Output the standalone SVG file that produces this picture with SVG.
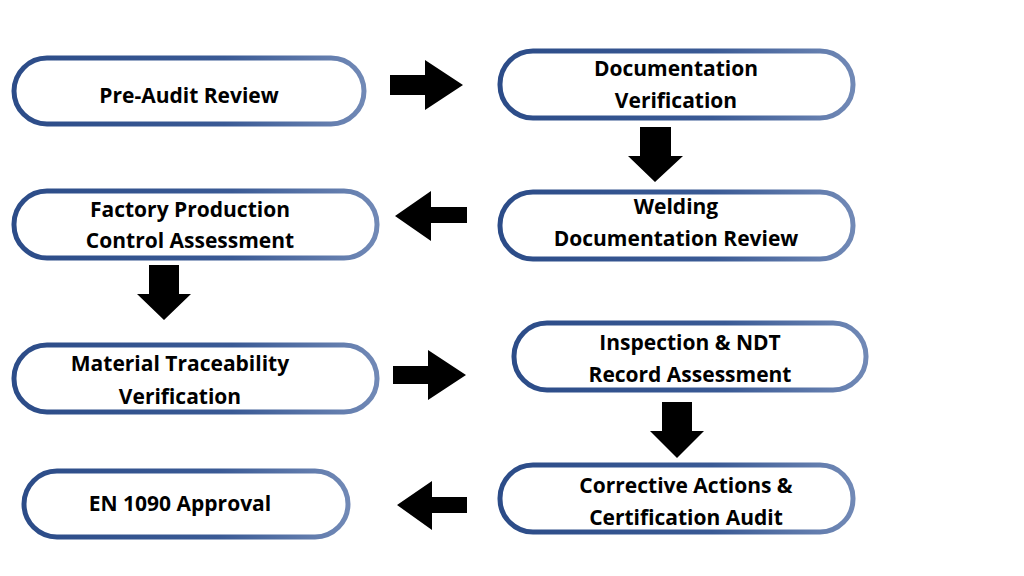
<svg xmlns="http://www.w3.org/2000/svg" width="1024" height="576" viewBox="0 0 1024 576">
<defs>
<linearGradient id="g" x1="0" y1="0" x2="1" y2="0">
<stop offset="0" stop-color="#2c4c88"/><stop offset="0.6" stop-color="#3a5a95"/><stop offset="1" stop-color="#7189b6"/>
</linearGradient>
<style>
.n{fill:#fff;stroke:url(#g);stroke-width:5}
.t{font-family:"Open Sans","Liberation Sans",sans-serif;font-weight:700;font-size:21px;fill:#000;text-anchor:middle}
.a{fill:#000}
</style>
</defs>
<rect width="1024" height="576" fill="#fff"/>
<g id="n1"><rect class="n" x="14" y="58" width="350" height="66" rx="33"/><text class="t" x="189" y="103">Pre-Audit Review</text></g>
<g id="n2"><rect class="n" x="500" y="51" width="353" height="67" rx="33"/><text class="t" x="676" y="76">Documentation</text><text class="t" x="676" y="108">Verification</text></g>
<g id="n3"><rect class="n" x="500" y="192" width="353" height="67" rx="33"/><text class="t" x="676" y="214">Welding</text><text class="t" x="676" y="246">Documentation Review</text></g>
<g id="n4"><rect class="n" x="14" y="191" width="363" height="67" rx="33"/><text class="t" x="190" y="217">Factory Production</text><text class="t" x="190" y="248">Control Assessment</text></g>
<g id="n5"><rect class="n" x="14" y="345" width="363" height="67" rx="33"/><text class="t" x="180" y="371">Material Traceability</text><text class="t" x="180" y="404">Verification</text></g>
<g id="n6"><rect class="n" x="514" y="323" width="352" height="67" rx="33"/><text class="t" x="690" y="350">Inspection &amp; NDT</text><text class="t" x="690" y="382">Record Assessment</text></g>
<g id="n7"><rect class="n" x="500" y="465" width="353" height="67" rx="33"/><text class="t" x="686" y="493">Corrective Actions &amp;</text><text class="t" x="686" y="525">Certification Audit</text></g>
<g id="n8"><rect class="n" x="24" y="471" width="324" height="66" rx="33"/><text class="t" x="180" y="511">EN 1090 Approval</text></g>
<g id="connectors">
<polygon class="a" points="390,75 425,75 425,60 463,85 425,110 425,95 390,95"/>
<polygon class="a" points="640,127 671,127 671,156 683,156 655,182 628,156 640,156"/>
<polygon class="a" points="467,207 431,207 431,191 395,216 431,241 431,223 467,223"/>
<polygon class="a" points="149,265 179,265 179,294 191,294 164,320 137,294 149,294"/>
<polygon class="a" points="393,366 428,366 428,350 466,375 428,400 428,384 393,384"/>
<polygon class="a" points="662,402 692,402 692,431 704,431 677,458 650,431 662,431"/>
<polygon class="a" points="467,497 432,497 432,481 397,505 432,530 432,513 467,513"/>
</g>
</svg>
